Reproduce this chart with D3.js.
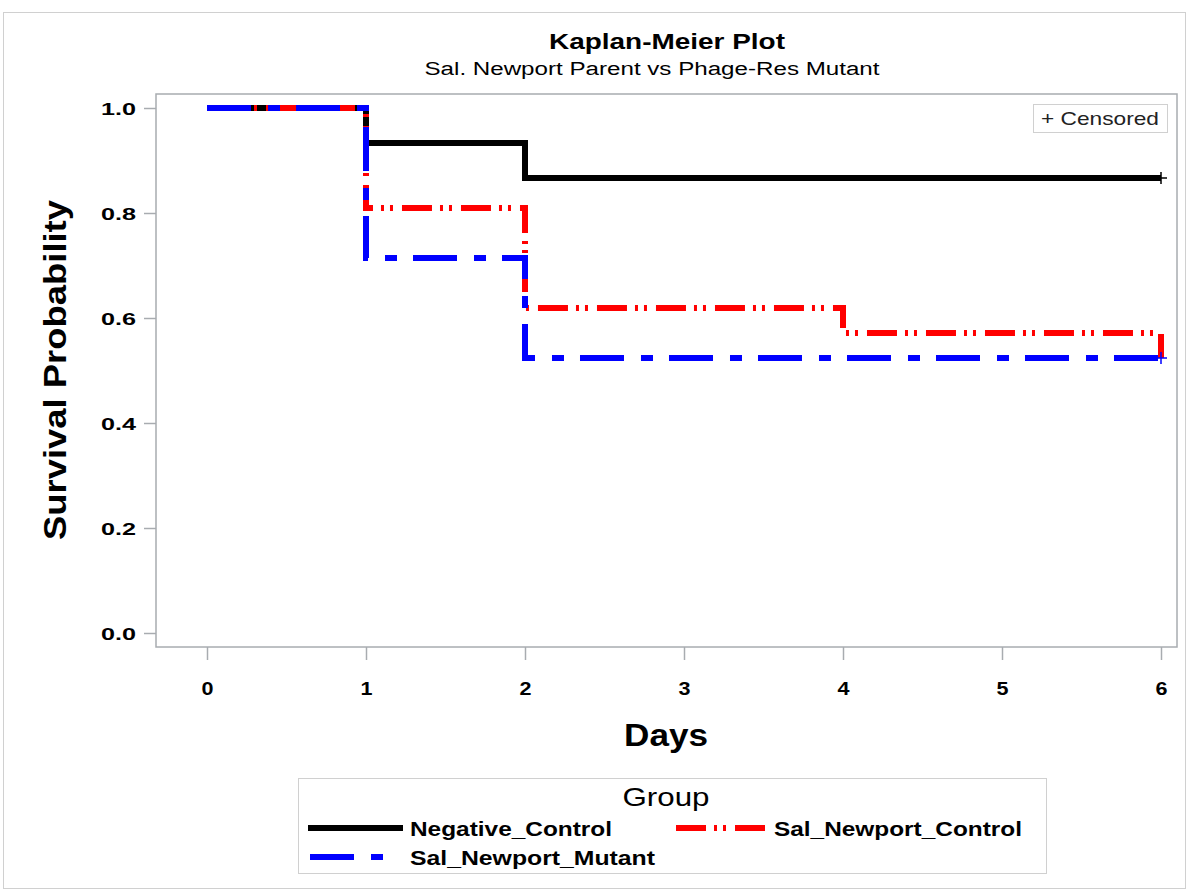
<!DOCTYPE html>
<html>
<head>
<meta charset="utf-8">
<script src="https://cdn.jsdelivr.net/npm/d3@7"></script>
<style>
  body { margin: 0; background: #fff; }
  svg { display: block; font-family: "Liberation Sans", Arial, sans-serif; }
</style>
</head>
<body>
<svg width="1189" height="892"></svg>
<script>
// データ (Kaplan-Meier 推定値)
var groups = ["Negative_Control", "Sal_Newport_Control", "Sal_Newport_Mutant"];
var negDays = [0, 1, 2, 6];
var negSurv = [1.0, 0.9333, 0.8667, 0.8667];
var ctrlDays = [0, 1, 2, 4, 6];
var ctrlSurv = [1.0, 0.8095, 0.6190, 0.5714, 0.5238];
var mutDays = [0, 1, 2, 6];
var mutSurv = [1.0, 0.7143, 0.5238, 0.5238];
// 打ち切り (censored)
var censDays = [6, 6];
var censSurv = [0.8667, 0.5238];
var xTicks = [0, 1, 2, 3, 4, 5, 6];
var yTicks = [0.0, 0.2, 0.4, 0.6, 0.8, 1.0];

var svg = d3.select("svg");
var frame = { left: 156, top: 94, right: 1177, bottom: 647 };

var x = d3.scaleLinear().domain([0, 6]).range([207, 1161]);
var y = d3.scaleLinear().domain([0, 1]).range([633, 108]);

// 外枠
svg.append("rect")
  .attr("x", 3.5).attr("y", 12.5)
  .attr("width", 1182).attr("height", 876)
  .attr("fill", "none").attr("stroke", "#d0d0d0");

// タイトル
svg.append("text")
  .attr("x", 667).attr("y", 49)
  .attr("text-anchor", "middle")
  .attr("font-size", 22).attr("font-weight", "bold")
  .attr("textLength", 236).attr("lengthAdjust", "spacingAndGlyphs")
  .text("Kaplan-Meier Plot");
svg.append("text")
  .attr("x", 652).attr("y", 75)
  .attr("text-anchor", "middle")
  .attr("font-size", 18)
  .attr("textLength", 455).attr("lengthAdjust", "spacingAndGlyphs")
  .text("Sal. Newport Parent vs Phage-Res Mutant");

// 軸
var yAxis = d3.axisLeft(y).tickValues(yTicks).tickFormat(d3.format(".1f")).tickSize(12).tickPadding(8);
var xAxis = d3.axisBottom(x).tickValues(xTicks).tickFormat(d3.format("d")).tickSize(13).tickPadding(27);

var gy = svg.append("g").attr("transform", "translate(" + frame.left + ",0)").call(yAxis);
var gx = svg.append("g").attr("transform", "translate(0," + frame.bottom + ")").call(xAxis);
[gx, gy].forEach(function(g) {
  g.select(".domain").remove();
  g.selectAll(".tick line").attr("stroke", "#a8acb0").attr("stroke-width", 1.5);
  g.selectAll(".tick text")
    .attr("fill", "#000")
    .attr("font-size", 17).attr("font-weight", "bold")
    .attr("font-family", "Liberation Sans, Arial, sans-serif");
});
gy.selectAll(".tick text").attr("textLength", 35).attr("lengthAdjust", "spacingAndGlyphs").attr("dy", "0.36em");
gx.selectAll(".tick text").attr("font-size", 19).attr("textLength", 12).attr("lengthAdjust", "spacingAndGlyphs").attr("dy", "0.4em");

// プロット枠
svg.append("rect")
  .attr("x", frame.left).attr("y", frame.top)
  .attr("width", frame.right - frame.left).attr("height", frame.bottom - frame.top)
  .attr("fill", "none").attr("stroke", "#a8acb0").attr("stroke-width", 1.5);

// 軸ラベル
svg.append("text")
  .attr("transform", "translate(66,370) rotate(-90)")
  .attr("text-anchor", "middle")
  .attr("font-size", 32).attr("font-weight", "bold")
  .attr("textLength", 340).attr("lengthAdjust", "spacingAndGlyphs")
  .text("Survival Probability");
svg.append("text")
  .attr("x", 666).attr("y", 746)
  .attr("text-anchor", "middle")
  .attr("font-size", 32).attr("font-weight", "bold")
  .attr("textLength", 84).attr("lengthAdjust", "spacingAndGlyphs")
  .text("Days");

// 生存曲線
var series = [
  { name: groups[0], days: negDays, surv: negSurv, color: "#000000", dash: null },
  { name: groups[1], days: ctrlDays, surv: ctrlSurv, color: "#ff0000", dash: "30,8,3,6,3,9" },
  { name: groups[2], days: mutDays, surv: mutSurv, color: "#0000ff", dash: "44,17,12,16" }
];

var line = d3.line()
  .x(function(d) { return x(d[0]); })
  .y(function(d) { return y(d[1]); })
  .curve(d3.curveStepAfter);

series.forEach(function(s) {
  var pts = s.days.map(function(d, i) { return [d, s.surv[i]]; });
  svg.append("path")
    .attr("d", line(pts))
    .attr("fill", "none")
    .attr("stroke", s.color)
    .attr("stroke-width", 6)
    .attr("stroke-dasharray", s.dash);
});

// 打ち切りマーカー
svg.selectAll(".cens")
  .data(censDays.map(function(d, i) { return [d, censSurv[i]]; }))
  .enter().append("path")
  .attr("class", "cens")
  .attr("d", function(d) {
    var cx = x(d[0]), cy = y(d[1]);
    return "M" + (cx - 6) + "," + cy + "L" + (cx + 6) + "," + cy +
      "M" + cx + "," + (cy - 6) + "L" + cx + "," + (cy + 6);
  })
  .attr("stroke", function(d, i) { return i === 0 ? "#000" : "#0000ff"; })
  .attr("stroke-width", 1.5);

// Censored 凡例
svg.append("rect")
  .attr("x", 1033.5).attr("y", 104.5).attr("width", 134).attr("height", 28)
  .attr("fill", "#fff").attr("stroke", "#d0d0d0");
svg.append("text")
  .attr("x", 1100).attr("y", 125)
  .attr("text-anchor", "middle")
  .attr("font-size", 19).attr("fill", "#222")
  .attr("textLength", 118).attr("lengthAdjust", "spacingAndGlyphs")
  .text("+ Censored");

// グループ凡例
svg.append("rect")
  .attr("x", 298.5).attr("y", 778.5).attr("width", 748).attr("height", 95)
  .attr("fill", "#fff").attr("stroke", "#d0d0d0");
svg.append("text")
  .attr("x", 666).attr("y", 806)
  .attr("text-anchor", "middle")
  .attr("font-size", 26)
  .attr("textLength", 87).attr("lengthAdjust", "spacingAndGlyphs")
  .text("Group");

var legendPos = [
  { x1: 308, x2: 403, tx: 410, ty: 828, tl: 202 },
  { x1: 676, x2: 766, tx: 774, ty: 828, tl: 248 },
  { x1: 310, x2: 396, tx: 410, ty: 857, tl: 245 }
];
series.forEach(function(s, i) {
  var p = legendPos[i];
  svg.append("line")
    .attr("x1", p.x1).attr("x2", p.x2).attr("y1", p.ty).attr("y2", p.ty)
    .attr("stroke", s.color).attr("stroke-width", 6)
    .attr("stroke-dasharray", s.dash);
  svg.append("text")
    .attr("x", p.tx).attr("y", p.ty + 8)
    .attr("font-size", 21).attr("font-weight", "bold")
    .attr("textLength", p.tl).attr("lengthAdjust", "spacingAndGlyphs")
    .text(s.name);
});
</script>
</body>
</html>
